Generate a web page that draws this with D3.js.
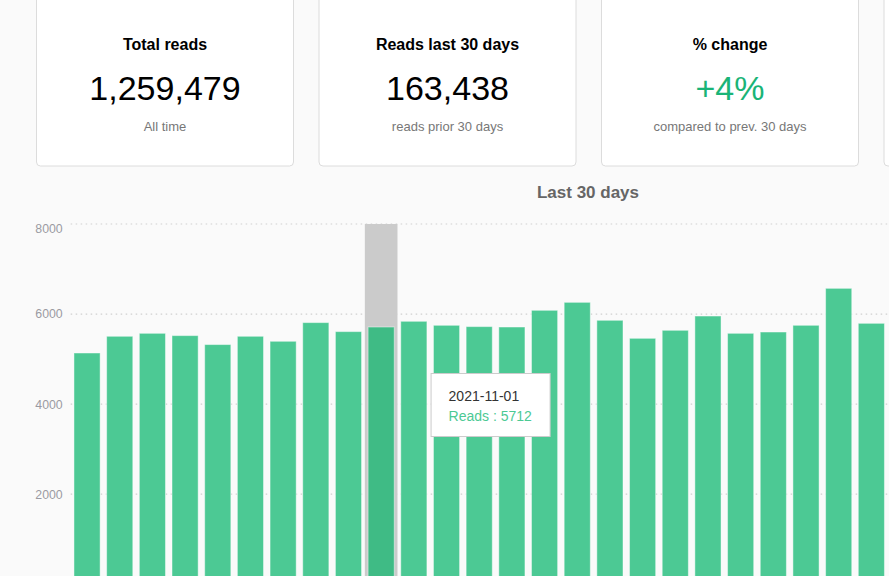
<!DOCTYPE html>
<html>
<head>
<meta charset="utf-8">
<script src="https://cdn.jsdelivr.net/npm/d3@7/dist/d3.min.js"></script>
<style>
  html, body { margin: 0; padding: 0; background: #fafafa; overflow: hidden; width: 889px; height: 576px; }
  svg { display: block; font-family: "Liberation Sans", Arial, sans-serif; }
</style>
</head>
<body>
<svg id="chart" width="1200" height="600"></svg>
<script>
// ---- data ----
const cardTitles = ["Total reads", "Reads last 30 days", "% change", ""];
const cardValues = ["1,259,479", "163,438", "+4%", ""];
const cardSubtitles = ["All time", "reads prior 30 days", "compared to prev. 30 days", ""];

const dates = [
  "2021-10-23","2021-10-24","2021-10-25","2021-10-26","2021-10-27","2021-10-28",
  "2021-10-29","2021-10-30","2021-10-31","2021-11-01","2021-11-02","2021-11-03",
  "2021-11-04","2021-11-05","2021-11-06","2021-11-07","2021-11-08","2021-11-09",
  "2021-11-10","2021-11-11","2021-11-12","2021-11-13","2021-11-14","2021-11-15",
  "2021-11-16","2021-11-17","2021-11-18","2021-11-19","2021-11-20","2021-11-21"
];
const reads = [
  5135, 5506, 5572, 5521, 5322, 5506, 5395, 5810, 5610, 5712,
  5839, 5750, 5721, 5712, 6083, 6260, 5861, 5461, 5639, 5956,
  5572, 5601, 5750, 6571, 5794, 5700, 5500, 5900, 5600, 5400
];
const yTicks = [2000, 4000, 6000, 8000];
const yMax = 8000;
const activeDate = "2021-11-01";
const chartTitle = "Last 30 days";

// ---- drawing ----
const svg = d3.select("#chart");

// cards
const cardX = d3.scaleLinear().domain([0, 1]).range([36.5, 319]);
const cardW = 257;
const cards = svg.selectAll("g.card").data(cardTitles).join("g")
  .attr("class", "card")
  .attr("transform", (d, i) => `translate(${cardX(i)},0)`);
cards.append("rect")
  .attr("x", 0).attr("y", -30).attr("width", cardW).attr("height", 196)
  .attr("rx", 4).attr("fill", "#fff").attr("stroke", "#dcdcdc");
cards.append("text")
  .attr("x", cardW / 2).attr("y", 50).attr("text-anchor", "middle")
  .attr("font-size", 16).attr("font-weight", "bold").attr("fill", "#000")
  .text(d => d);
cards.append("text")
  .attr("x", cardW / 2).attr("y", 100).attr("text-anchor", "middle")
  .attr("font-size", 34).attr("fill", (d, i) => cardValues[i].startsWith("+") ? "#1ab477" : "#000")
  .text((d, i) => cardValues[i]);
cards.append("text")
  .attr("x", cardW / 2).attr("y", 131).attr("text-anchor", "middle")
  .attr("font-size", 13).attr("fill", "#777")
  .text((d, i) => cardSubtitles[i]);

// chart title
svg.append("text")
  .attr("x", 588).attr("y", 198).attr("text-anchor", "middle")
  .attr("font-size", 17).attr("font-weight", "bold").attr("fill", "#666")
  .text(chartTitle);

// scales
const plotLeft = 70.7, plotRight = 70.7 + 32.68 * dates.length;
const x = d3.scaleBand().domain(dates).range([plotLeft, plotRight])
  .paddingInner(0.2).paddingOuter(0.1);
const y = d3.scaleLinear().domain([0, yMax]).range([584.2, 224]);

// grid
svg.append("g").selectAll("line").data(yTicks).join("line")
  .attr("x1", plotLeft).attr("x2", plotRight)
  .attr("y1", d => y(d)).attr("y2", d => y(d))
  .attr("stroke", "#cfcfcf").attr("stroke-width", 1.2)
  .attr("stroke-dasharray", "1.5 3.5");

// y axis
const yAxis = d3.axisLeft(y).tickValues(yTicks).tickFormat(d3.format("d")).tickSize(0).tickPadding(8);
const ya = svg.append("g").attr("transform", `translate(${plotLeft},0)`).call(yAxis);
ya.select(".domain").remove();
ya.selectAll("text").attr("font-size", 12.3).attr("fill", "#9a9aa2")
  .attr("font-family", "\"Liberation Sans\", Arial, sans-serif")
  .attr("dy", d => d === yMax ? "0.65em" : "0.32em");

// cursor
const step = x.step();
svg.append("rect")
  .attr("x", x(activeDate) - x.bandwidth() * 0.125)
  .attr("y", y(yMax))
  .attr("width", step)
  .attr("height", y(0) - y(yMax))
  .attr("fill", "#cbcbcb");

// bars
svg.append("g").selectAll("rect").data(dates).join("rect")
  .attr("x", d => x(d))
  .attr("y", (d, i) => y(reads[i]))
  .attr("width", x.bandwidth())
  .attr("height", (d, i) => y(0) - y(reads[i]))
  .attr("fill", d => d === activeDate ? "#3fbb85" : "#4cc994")
  .attr("stroke", "rgba(255,255,255,0.45)")
  .attr("stroke-width", 1);

// tooltip
const ai = dates.indexOf(activeDate);
const tipX = x(activeDate) + 63;
const tip = svg.append("g").attr("transform", `translate(${tipX},373.5)`);
tip.append("rect").attr("width", 119).attr("height", 63)
  .attr("fill", "#fff").attr("stroke", "#ccc");
tip.append("text").attr("x", 17.5).attr("y", 27).attr("font-size", 14).attr("fill", "#333")
  .text(activeDate);
tip.append("text").attr("x", 17.5).attr("y", 47.5).attr("font-size", 14).attr("fill", "#4cc994")
  .text("Reads : " + reads[ai]);
</script>
</body>
</html>
